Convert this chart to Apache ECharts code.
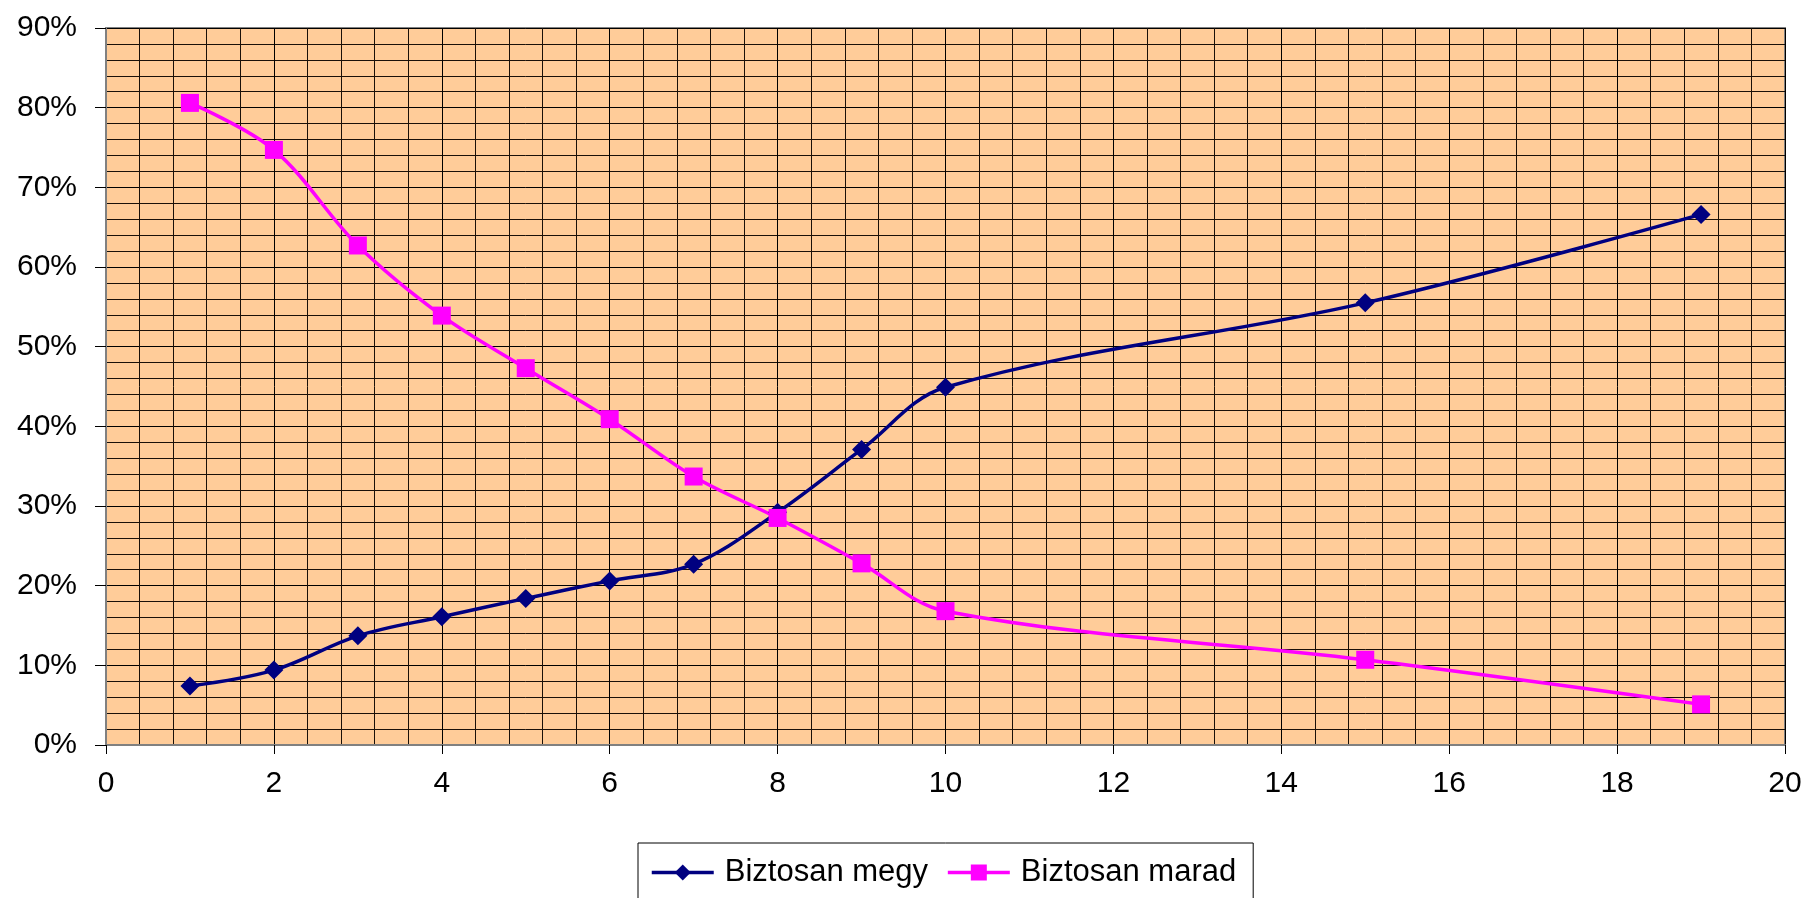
<!DOCTYPE html>
<html>
<head>
<meta charset="utf-8">
<script src="https://cdn.jsdelivr.net/npm/echarts@6/dist/echarts.min.js"></script>
<style>html,body{margin:0;padding:0;background:#fff;}#c{width:1807px;height:898px;}</style>
</head>
<body>
<div id="c"></div>
<script>
const xValues = [1, 2, 3, 4, 5, 6, 7, 8, 9, 10, 15, 19];
const megy = [7.4, 9.4, 13.7, 16.1, 18.4, 20.6, 22.7, 29.2, 37.1, 44.9, 55.5, 66.6];
const marad = [80.6, 74.7, 62.7, 53.9, 47.3, 40.9, 33.7, 28.5, 22.8, 16.8, 10.7, 5.1];
const seriesNames = ['Biztosan megy', 'Biztosan marad'];
const yTicks = [0, 10, 20, 30, 40, 50, 60, 70, 80, 90];
const xTicks = [0, 2, 4, 6, 8, 10, 12, 14, 16, 18, 20];

const font = '"Liberation Sans", Arial, sans-serif';
const chart = echarts.init(document.getElementById('c'), null, {renderer: 'canvas'});
const pair = (xs, ys) => xs.map((x, i) => [x, ys[i]]);

chart.setOption({
  animation: false,
  backgroundColor: '#ffffff',
  grid: {
    left: 106, right: 22, top: 28, bottom: 153,
    show: true, backgroundColor: '#FFCC99', borderColor: '#808080', borderWidth: 2
  },
  xAxis: {
    type: 'value', min: xTicks[0], max: xTicks[xTicks.length - 1], interval: 2,
    axisLine: {show: true, onZero: false, lineStyle: {color: '#808080', width: 2}},
    axisTick: {show: true, length: 9, lineStyle: {color: '#000'}},
    axisLabel: {color: '#000', fontSize: 30, fontFamily: font, margin: 24},
    splitLine: {show: true, lineStyle: {color: '#000', width: 1}},
    minorTick: {show: false, splitNumber: 5},
    minorSplitLine: {show: true, lineStyle: {color: '#1a1008', width: 1}}
  },
  yAxis: {
    type: 'value', min: yTicks[0], max: yTicks[yTicks.length - 1], interval: 10,
    axisLine: {show: true, lineStyle: {color: '#808080', width: 2}},
    axisTick: {show: true, length: 11, lineStyle: {color: '#000'}},
    axisLabel: {color: '#000', fontSize: 30, fontFamily: font, margin: 29, formatter: '{value}%'},
    splitLine: {show: true, lineStyle: {color: '#000', width: 1}},
    minorTick: {show: false, splitNumber: 5},
    minorSplitLine: {show: true, lineStyle: {color: '#1a1008', width: 1}}
  },
  legend: {
    left: 638, top: 843,
    padding: [14, 17, 30, 12],
    borderColor: '#000', borderWidth: 1, backgroundColor: '#fff',
    itemWidth: 62, itemHeight: 20, itemGap: 18,
    lineStyle: {width: 3.5},
    textStyle: {color: '#000', fontSize: 31, fontFamily: font, padding: [0, 0, 0, 6]},
    data: seriesNames
  },
  series: [
    {
      name: seriesNames[0], type: 'line', data: pair(xValues, megy),
      smooth: 0.35, symbol: 'diamond', symbolSize: 19,
      lineStyle: {color: '#000080', width: 3.5}, itemStyle: {color: '#000080'}
    },
    {
      name: seriesNames[1], type: 'line', data: pair(xValues, marad),
      smooth: 0.35, symbol: 'rect', symbolSize: 18,
      lineStyle: {color: '#FF00FF', width: 3.5}, itemStyle: {color: '#FF00FF'}
    }
  ]
});
</script>
</body>
</html>
